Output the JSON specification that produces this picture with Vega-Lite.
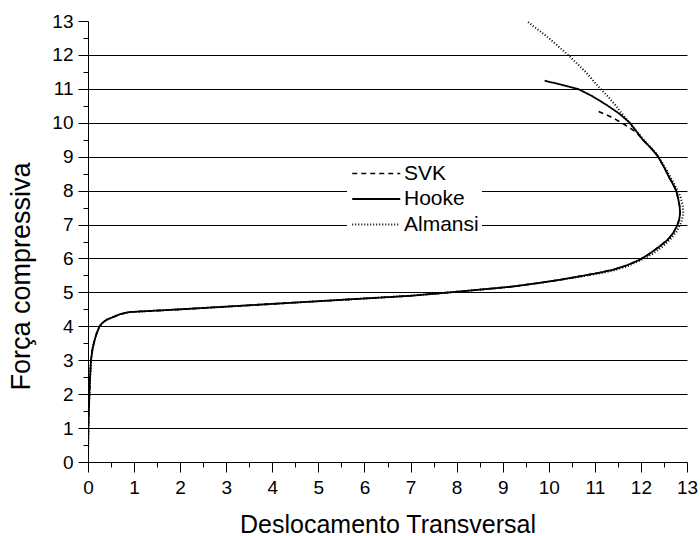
{
  "$schema": "https://vega.github.io/schema/vega-lite/v6.json",
  "width": 599,
  "height": 441,
  "autosize": {"type": "none"},
  "padding": {"left": 88, "top": 21, "right": 13, "bottom": 74},
  "background": "white",
  "config": {
    "view": {"stroke": null},
    "font": "Liberation Sans",
    "axis": {
      "labelFont": "Liberation Sans",
      "titleFont": "Liberation Sans",
      "labelColor": "black",
      "titleColor": "black",
      "titleFontWeight": "normal",
      "domainColor": "black",
      "tickColor": "black",
      "gridColor": "black",
      "gridWidth": 1,
      "labelFontSize": 19
    }
  },
  "data": {
    "values": [
      {"series": "Hooke", "i": 0, "x": 0, "y": 0},
      {"series": "Hooke", "i": 1, "x": 0.003, "y": 0.5},
      {"series": "Hooke", "i": 2, "x": 0.008, "y": 1.0},
      {"series": "Hooke", "i": 3, "x": 0.018, "y": 1.5},
      {"series": "Hooke", "i": 4, "x": 0.03, "y": 2.0},
      {"series": "Hooke", "i": 5, "x": 0.045, "y": 2.5},
      {"series": "Hooke", "i": 6, "x": 0.065, "y": 3.0},
      {"series": "Hooke", "i": 7, "x": 0.1, "y": 3.35},
      {"series": "Hooke", "i": 8, "x": 0.145, "y": 3.6},
      {"series": "Hooke", "i": 9, "x": 0.19, "y": 3.8},
      {"series": "Hooke", "i": 10, "x": 0.25, "y": 4.0},
      {"series": "Hooke", "i": 11, "x": 0.32, "y": 4.11},
      {"series": "Hooke", "i": 12, "x": 0.40, "y": 4.19},
      {"series": "Hooke", "i": 13, "x": 0.54, "y": 4.27},
      {"series": "Hooke", "i": 14, "x": 0.7, "y": 4.36},
      {"series": "Hooke", "i": 15, "x": 0.9, "y": 4.42},
      {"series": "Hooke", "i": 16, "x": 2, "y": 4.5},
      {"series": "Hooke", "i": 17, "x": 3, "y": 4.58},
      {"series": "Hooke", "i": 18, "x": 4, "y": 4.66},
      {"series": "Hooke", "i": 19, "x": 5, "y": 4.74},
      {"series": "Hooke", "i": 20, "x": 6, "y": 4.82},
      {"series": "Hooke", "i": 21, "x": 7, "y": 4.9},
      {"series": "Hooke", "i": 22, "x": 7.85, "y": 5.0},
      {"series": "Hooke", "i": 23, "x": 8.5, "y": 5.08},
      {"series": "Hooke", "i": 24, "x": 9.2, "y": 5.17},
      {"series": "Hooke", "i": 25, "x": 9.8, "y": 5.28},
      {"series": "Hooke", "i": 26, "x": 10.24, "y": 5.37},
      {"series": "Hooke", "i": 27, "x": 10.7, "y": 5.48},
      {"series": "Hooke", "i": 28, "x": 11.1, "y": 5.58},
      {"series": "Hooke", "i": 29, "x": 11.4, "y": 5.67},
      {"series": "Hooke", "i": 30, "x": 11.7, "y": 5.8},
      {"series": "Hooke", "i": 31, "x": 11.97, "y": 5.96},
      {"series": "Hooke", "i": 32, "x": 12.2, "y": 6.15},
      {"series": "Hooke", "i": 33, "x": 12.41, "y": 6.36},
      {"series": "Hooke", "i": 34, "x": 12.58, "y": 6.55},
      {"series": "Hooke", "i": 35, "x": 12.70, "y": 6.75},
      {"series": "Hooke", "i": 36, "x": 12.78, "y": 6.95},
      {"series": "Hooke", "i": 37, "x": 12.83, "y": 7.14},
      {"series": "Hooke", "i": 38, "x": 12.85, "y": 7.35},
      {"series": "Hooke", "i": 39, "x": 12.84, "y": 7.54},
      {"series": "Hooke", "i": 40, "x": 12.81, "y": 7.75},
      {"series": "Hooke", "i": 41, "x": 12.77, "y": 7.98},
      {"series": "Hooke", "i": 42, "x": 12.70, "y": 8.18},
      {"series": "Hooke", "i": 43, "x": 12.62, "y": 8.37},
      {"series": "Hooke", "i": 44, "x": 12.51, "y": 8.67},
      {"series": "Hooke", "i": 45, "x": 12.37, "y": 9.01},
      {"series": "Hooke", "i": 46, "x": 12.22, "y": 9.25},
      {"series": "Hooke", "i": 47, "x": 12.04, "y": 9.5},
      {"series": "Hooke", "i": 48, "x": 11.9, "y": 9.75},
      {"series": "Hooke", "i": 49, "x": 11.76, "y": 10.0},
      {"series": "Hooke", "i": 50, "x": 11.52, "y": 10.28},
      {"series": "Hooke", "i": 51, "x": 11.25, "y": 10.53},
      {"series": "Hooke", "i": 52, "x": 10.95, "y": 10.78},
      {"series": "Hooke", "i": 53, "x": 10.63, "y": 11.0},
      {"series": "Hooke", "i": 54, "x": 10.25, "y": 11.13},
      {"series": "Hooke", "i": 55, "x": 9.91, "y": 11.24},

      {"series": "SVK", "i": 0, "x": 0, "y": 0},
      {"series": "SVK", "i": 1, "x": 0.003, "y": 0.5},
      {"series": "SVK", "i": 2, "x": 0.008, "y": 1.0},
      {"series": "SVK", "i": 3, "x": 0.018, "y": 1.5},
      {"series": "SVK", "i": 4, "x": 0.03, "y": 2.0},
      {"series": "SVK", "i": 5, "x": 0.045, "y": 2.5},
      {"series": "SVK", "i": 6, "x": 0.065, "y": 3.0},
      {"series": "SVK", "i": 7, "x": 0.1, "y": 3.35},
      {"series": "SVK", "i": 8, "x": 0.145, "y": 3.6},
      {"series": "SVK", "i": 9, "x": 0.19, "y": 3.8},
      {"series": "SVK", "i": 10, "x": 0.25, "y": 4.0},
      {"series": "SVK", "i": 11, "x": 0.32, "y": 4.11},
      {"series": "SVK", "i": 12, "x": 0.40, "y": 4.19},
      {"series": "SVK", "i": 13, "x": 0.54, "y": 4.27},
      {"series": "SVK", "i": 14, "x": 0.7, "y": 4.36},
      {"series": "SVK", "i": 15, "x": 0.9, "y": 4.42},
      {"series": "SVK", "i": 16, "x": 2, "y": 4.5},
      {"series": "SVK", "i": 17, "x": 3, "y": 4.58},
      {"series": "SVK", "i": 18, "x": 4, "y": 4.66},
      {"series": "SVK", "i": 19, "x": 5, "y": 4.74},
      {"series": "SVK", "i": 20, "x": 6, "y": 4.82},
      {"series": "SVK", "i": 21, "x": 7, "y": 4.9},
      {"series": "SVK", "i": 22, "x": 7.85, "y": 5.0},
      {"series": "SVK", "i": 23, "x": 8.5, "y": 5.08},
      {"series": "SVK", "i": 24, "x": 9.2, "y": 5.17},
      {"series": "SVK", "i": 25, "x": 9.8, "y": 5.28},
      {"series": "SVK", "i": 26, "x": 10.24, "y": 5.37},
      {"series": "SVK", "i": 27, "x": 10.7, "y": 5.48},
      {"series": "SVK", "i": 28, "x": 11.1, "y": 5.58},
      {"series": "SVK", "i": 29, "x": 11.4, "y": 5.67},
      {"series": "SVK", "i": 30, "x": 11.7, "y": 5.8},
      {"series": "SVK", "i": 31, "x": 11.97, "y": 5.96},
      {"series": "SVK", "i": 32, "x": 12.2, "y": 6.15},
      {"series": "SVK", "i": 33, "x": 12.41, "y": 6.36},
      {"series": "SVK", "i": 34, "x": 12.58, "y": 6.55},
      {"series": "SVK", "i": 35, "x": 12.70, "y": 6.75},
      {"series": "SVK", "i": 36, "x": 12.78, "y": 6.95},
      {"series": "SVK", "i": 37, "x": 12.83, "y": 7.14},
      {"series": "SVK", "i": 38, "x": 12.85, "y": 7.35},
      {"series": "SVK", "i": 39, "x": 12.84, "y": 7.54},
      {"series": "SVK", "i": 40, "x": 12.81, "y": 7.75},
      {"series": "SVK", "i": 41, "x": 12.77, "y": 7.98},
      {"series": "SVK", "i": 42, "x": 12.70, "y": 8.18},
      {"series": "SVK", "i": 43, "x": 12.62, "y": 8.37},
      {"series": "SVK", "i": 44, "x": 12.51, "y": 8.67},
      {"series": "SVK", "i": 45, "x": 12.37, "y": 9.01},
      {"series": "SVK", "i": 46, "x": 12.22, "y": 9.25},
      {"series": "SVK", "i": 47, "x": 12.04, "y": 9.5},
      {"series": "SVK", "i": 48, "x": 11.9, "y": 9.72},
      {"series": "SVK", "i": 49, "x": 11.76, "y": 9.85},
      {"series": "SVK", "i": 50, "x": 11.65, "y": 9.94},
      {"series": "SVK", "i": 51, "x": 11.45, "y": 10.1},
      {"series": "SVK", "i": 52, "x": 11.32, "y": 10.19},
      {"series": "SVK", "i": 53, "x": 11.07, "y": 10.34},

      {"series": "Almansi", "i": 0, "x": 0, "y": 0},
      {"series": "Almansi", "i": 1, "x": 0.003, "y": 0.5},
      {"series": "Almansi", "i": 2, "x": 0.008, "y": 1.0},
      {"series": "Almansi", "i": 3, "x": 0.018, "y": 1.5},
      {"series": "Almansi", "i": 4, "x": 0.03, "y": 2.0},
      {"series": "Almansi", "i": 5, "x": 0.045, "y": 2.5},
      {"series": "Almansi", "i": 6, "x": 0.065, "y": 3.0},
      {"series": "Almansi", "i": 7, "x": 0.1, "y": 3.35},
      {"series": "Almansi", "i": 8, "x": 0.145, "y": 3.6},
      {"series": "Almansi", "i": 9, "x": 0.19, "y": 3.8},
      {"series": "Almansi", "i": 10, "x": 0.25, "y": 4.0},
      {"series": "Almansi", "i": 11, "x": 0.32, "y": 4.11},
      {"series": "Almansi", "i": 12, "x": 0.40, "y": 4.19},
      {"series": "Almansi", "i": 13, "x": 0.54, "y": 4.27},
      {"series": "Almansi", "i": 14, "x": 0.7, "y": 4.36},
      {"series": "Almansi", "i": 15, "x": 0.9, "y": 4.42},
      {"series": "Almansi", "i": 16, "x": 2, "y": 4.5},
      {"series": "Almansi", "i": 17, "x": 3, "y": 4.58},
      {"series": "Almansi", "i": 18, "x": 4, "y": 4.66},
      {"series": "Almansi", "i": 19, "x": 5, "y": 4.74},
      {"series": "Almansi", "i": 20, "x": 6, "y": 4.82},
      {"series": "Almansi", "i": 21, "x": 7, "y": 4.9},
      {"series": "Almansi", "i": 22, "x": 7.85, "y": 5.0},
      {"series": "Almansi", "i": 23, "x": 8.5, "y": 5.08},
      {"series": "Almansi", "i": 24, "x": 9.2, "y": 5.17},
      {"series": "Almansi", "i": 25, "x": 9.8, "y": 5.28},
      {"series": "Almansi", "i": 26, "x": 10.24, "y": 5.37},
      {"series": "Almansi", "i": 27, "x": 10.7, "y": 5.47},
      {"series": "Almansi", "i": 28, "x": 11.1, "y": 5.56},
      {"series": "Almansi", "i": 29, "x": 11.4, "y": 5.64},
      {"series": "Almansi", "i": 30, "x": 11.7, "y": 5.77},
      {"series": "Almansi", "i": 31, "x": 11.97, "y": 5.93},
      {"series": "Almansi", "i": 32, "x": 12.25, "y": 6.13},
      {"series": "Almansi", "i": 33, "x": 12.47, "y": 6.35},
      {"series": "Almansi", "i": 34, "x": 12.65, "y": 6.58},
      {"series": "Almansi", "i": 35, "x": 12.78, "y": 6.8},
      {"series": "Almansi", "i": 36, "x": 12.87, "y": 7.05},
      {"series": "Almansi", "i": 37, "x": 12.92, "y": 7.3},
      {"series": "Almansi", "i": 38, "x": 12.91, "y": 7.55},
      {"series": "Almansi", "i": 39, "x": 12.86, "y": 7.8},
      {"series": "Almansi", "i": 40, "x": 12.8, "y": 8.0},
      {"series": "Almansi", "i": 41, "x": 12.7, "y": 8.25},
      {"series": "Almansi", "i": 42, "x": 12.58, "y": 8.55},
      {"series": "Almansi", "i": 43, "x": 12.45, "y": 8.85},
      {"series": "Almansi", "i": 44, "x": 12.3, "y": 9.15},
      {"series": "Almansi", "i": 45, "x": 12.12, "y": 9.4},
      {"series": "Almansi", "i": 46, "x": 11.95, "y": 9.68},
      {"series": "Almansi", "i": 47, "x": 11.79, "y": 9.94},
      {"series": "Almansi", "i": 48, "x": 11.63, "y": 10.2},
      {"series": "Almansi", "i": 49, "x": 11.47, "y": 10.48},
      {"series": "Almansi", "i": 50, "x": 11.28, "y": 10.78},
      {"series": "Almansi", "i": 51, "x": 11.1, "y": 11.03},
      {"series": "Almansi", "i": 52, "x": 10.8, "y": 11.5},
      {"series": "Almansi", "i": 53, "x": 10.42, "y": 12.0},
      {"series": "Almansi", "i": 54, "x": 10.0, "y": 12.5},
      {"series": "Almansi", "i": 55, "x": 9.52, "y": 13.0}
    ]
  },
  "mark": {"type": "line", "color": "black", "clip": true},
  "encoding": {
    "x": {
      "field": "x",
      "type": "quantitative",
      "scale": {"domain": [0, 13], "nice": false, "zero": false},
      "axis": {
        "title": "Deslocamento Transversal",
        "titleFontSize": 25,
        "values": [0, 0.5, 1, 1.5, 2, 2.5, 3, 3.5, 4, 4.5, 5, 5.5, 6, 6.5, 7, 7.5, 8, 8.5, 9, 9.5, 10, 10.5, 11, 11.5, 12, 12.5, 13],
        "labelExpr": "datum.value % 1 == 0 ? format(datum.value, 'd') : ''",
        "tickSize": {"condition": {"test": "datum.value % 1 != 0", "value": 5}, "value": 10},
        "labelPadding": 6,
        "labelFlush": false,
        "labelOverlap": false,
        "grid": false,
        "titlePadding": 15
      }
    },
    "y": {
      "field": "y",
      "type": "quantitative",
      "scale": {"domain": [0, 13], "nice": false, "zero": false},
      "axis": {
        "title": "Força compressiva",
        "titleFontSize": 27,
        "titleY": 255,
        "values": [0, 0.5, 1, 1.5, 2, 2.5, 3, 3.5, 4, 4.5, 5, 5.5, 6, 6.5, 7, 7.5, 8, 8.5, 9, 9.5, 10, 10.5, 11, 11.5, 12, 12.5, 13],
        "labelExpr": "datum.value % 1 == 0 ? format(datum.value, 'd') : ''",
        "tickSize": {"condition": {"test": "datum.value % 1 != 0", "value": 5}, "value": 10},
        "gridOpacity": {"condition": {"test": "datum.value % 1 != 0 || datum.value == 13 || datum.value == 0", "value": 0}, "value": 1},
        "grid": true,
        "labelPadding": 5,
        "labelFlush": false,
        "labelOverlap": false,
        "titlePadding": 16
      }
    },
    "order": {"field": "i", "type": "quantitative"},
    "strokeDash": {
      "field": "series",
      "type": "nominal",
      "scale": {"domain": ["SVK", "Hooke", "Almansi"], "range": [[5, 4], [1, 0], [1, 2]]},
      "legend": {
        "title": null,
        "orient": "none",
        "legendX": 259,
        "legendY": 139,
        "fillColor": "white",
        "padding": 3,
        "labelFont": "Liberation Sans",
        "labelFontSize": 21,
        "labelColor": "black",
        "symbolType": "M-1.1,0H5.3",
        "symbolSize": 225,
        "symbolStrokeColor": "black",
        "labelOffset": 33,
        "rowPadding": 3.5
      }
    },
    "strokeWidth": {
      "field": "series",
      "type": "nominal",
      "scale": {"domain": ["SVK", "Hooke", "Almansi"], "range": [1.6, 2, 1]},
      "legend": null
    }
  }
}
